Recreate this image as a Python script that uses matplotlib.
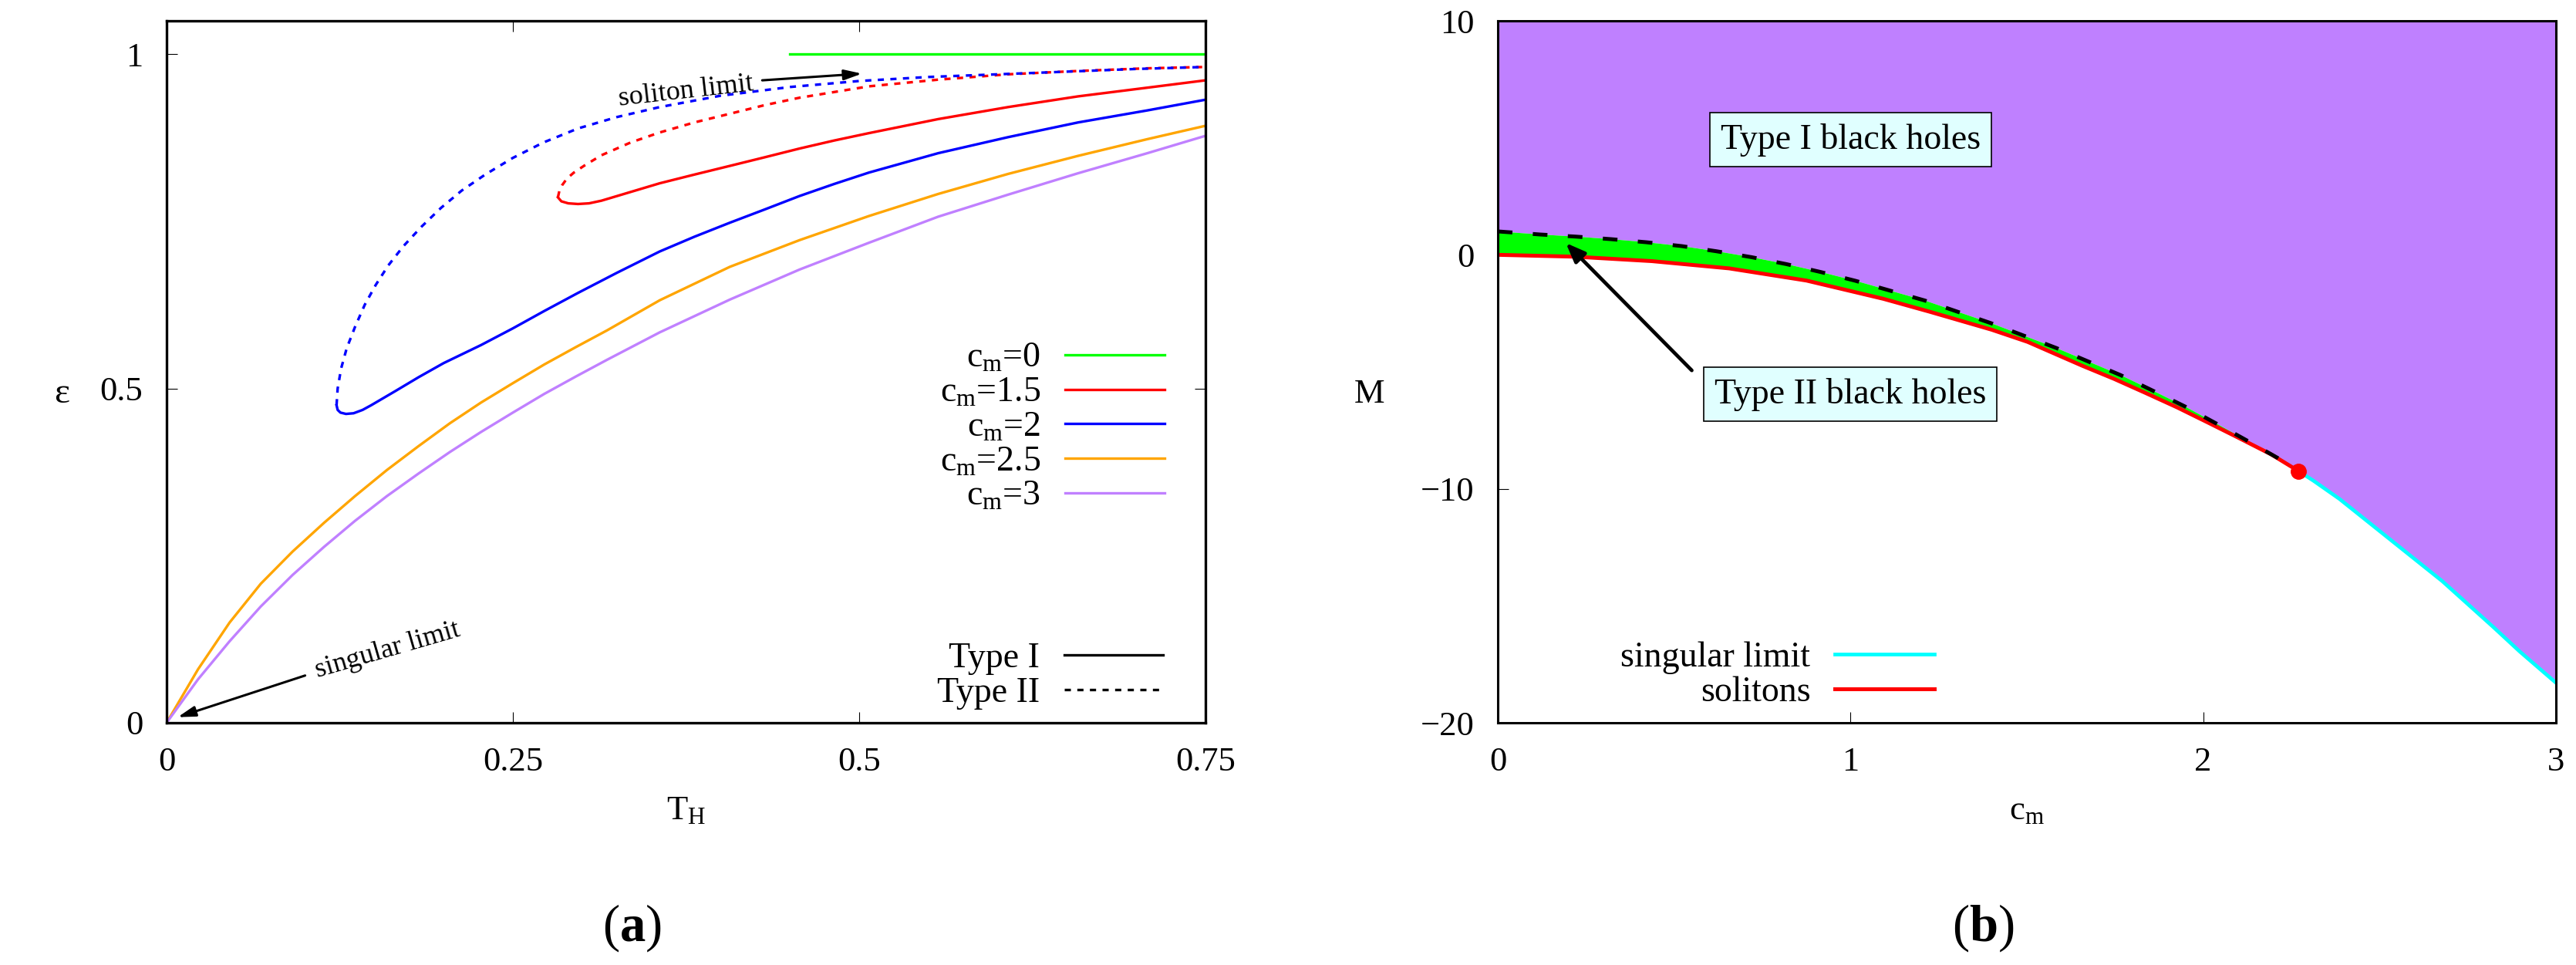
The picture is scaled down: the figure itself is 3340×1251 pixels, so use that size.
import numpy as np
import matplotlib
matplotlib.use('Agg')
import matplotlib.pyplot as plt
from matplotlib.lines import Line2D

plt.rcParams['font.family'] = ['Liberation Serif', 'DejaVu Serif']
plt.rcParams['mathtext.fontset'] = 'custom'
plt.rcParams['mathtext.rm'] = 'Liberation Serif'
plt.rcParams['mathtext.it'] = 'Liberation Serif:italic'
plt.rcParams['mathtext.bf'] = 'Liberation Serif:bold'

# ---------------- panel (a): epsilon vs T_H ----------------
t_cm0 = [0.45, 0.75]
e_cm0 = [1.0, 1.0]

t_cm15_I = [0.2825, 0.285, 0.29, 0.297, 0.305, 0.314, 0.335, 0.356, 0.381, 0.4066,
            0.432, 0.457, 0.482, 0.507, 0.557, 0.6075, 0.658, 0.708, 0.75]
e_cm15_I = [0.786, 0.780, 0.777, 0.776, 0.777, 0.781, 0.794, 0.807, 0.820, 0.833,
            0.846, 0.859, 0.871, 0.882, 0.903, 0.921, 0.937, 0.950, 0.961]
t_cm15_II = [0.2825, 0.2835, 0.2855, 0.289, 0.294, 0.302, 0.314, 0.335, 0.356, 0.381,
             0.4066, 0.432, 0.457, 0.507, 0.557, 0.6075, 0.658, 0.708, 0.75]
e_cm15_II = [0.786, 0.795, 0.804, 0.814, 0.823, 0.834, 0.849, 0.868, 0.883, 0.898,
             0.911, 0.924, 0.935, 0.952, 0.962, 0.970, 0.975, 0.979, 0.981]

t_cm2_I = [0.1227, 0.1235, 0.1255, 0.1295, 0.135, 0.1415, 0.1477, 0.165, 0.182, 0.2,
           0.227, 0.25, 0.2727, 0.297, 0.325, 0.356, 0.381, 0.4066, 0.432, 0.457,
           0.482, 0.507, 0.557, 0.6075, 0.658, 0.708, 0.75]
e_cm2_I = [0.475, 0.468, 0.464, 0.462, 0.463, 0.468, 0.475, 0.496, 0.517, 0.538,
           0.565, 0.590, 0.616, 0.643, 0.673, 0.705, 0.727, 0.748, 0.768, 0.788,
           0.806, 0.823, 0.852, 0.876, 0.898, 0.916, 0.932]
t_cm2_II = [0.1227, 0.1235, 0.126, 0.130, 0.136, 0.143, 0.151, 0.160, 0.171, 0.184,
            0.198, 0.213, 0.230, 0.250, 0.272, 0.297, 0.325, 0.356, 0.40, 0.45,
            0.50, 0.55, 0.60, 0.65, 0.70, 0.75]
e_cm2_II = [0.475, 0.500, 0.530, 0.560, 0.592, 0.625, 0.655, 0.684, 0.713, 0.742,
            0.770, 0.796, 0.820, 0.845, 0.868, 0.889, 0.906, 0.921, 0.938, 0.951,
            0.960, 0.966, 0.970, 0.974, 0.978, 0.981]

t_low = [0, 0.0227, 0.0455, 0.068, 0.0909, 0.1136, 0.136, 0.159, 0.182, 0.2045,
         0.227, 0.25, 0.2727, 0.2955, 0.318, 0.356, 0.4066, 0.457, 0.507, 0.557,
         0.6075, 0.658, 0.708, 0.75]
e_cm25 = [0, 0.080, 0.150, 0.208, 0.256, 0.299, 0.339, 0.378, 0.414, 0.448,
          0.479, 0.508, 0.536, 0.562, 0.587, 0.632, 0.682, 0.722, 0.758, 0.791,
          0.821, 0.848, 0.873, 0.893]
e_cm3 = [0, 0.065, 0.122, 0.174, 0.221, 0.263, 0.302, 0.339, 0.373, 0.405,
         0.435, 0.464, 0.492, 0.518, 0.543, 0.584, 0.633, 0.678, 0.718, 0.757,
         0.790, 0.822, 0.852, 0.878]

cm_labels = [r'c$_\mathrm{m}$=0', r'c$_\mathrm{m}$=1.5', r'c$_\mathrm{m}$=2',
             r'c$_\mathrm{m}$=2.5', r'c$_\mathrm{m}$=3']

# ---------------- panel (b): M vs c_m ----------------
c_sol = [0, 0.219, 0.437, 0.656, 0.875, 1.093, 1.224, 1.40, 1.502, 1.657, 1.747,
         1.836, 1.926, 2.015, 2.104, 2.194, 2.27]
M_sol = [0.0, -0.08, -0.27, -0.58, -1.10, -1.88, -2.43, -3.20, -3.72, -4.74, -5.30,
         -5.90, -6.52, -7.18, -7.85, -8.54, -9.24]

c_dash = [0, 0.121, 0.2216, 0.321, 0.421, 0.521, 0.620, 0.719, 0.818, 0.916, 1.014,
          1.210, 1.398, 1.583, 1.767, 1.859, 1.948, 2.037, 2.122, 2.212, 2.27]
M_dash = [1.0, 0.867, 0.778, 0.669, 0.537, 0.373, 0.152, -0.10, -0.397, -0.737, -1.11,
          -1.95, -2.92, -3.98, -5.15, -5.82, -6.48, -7.21, -7.92, -8.69, -9.24]

c_sing = [2.27, 2.313, 2.386, 2.459, 2.532, 2.605, 2.678, 2.751, 2.824, 2.897, 3.0]
M_sing = [-9.24, -9.66, -10.43, -11.31, -12.19, -13.07, -13.95, -14.94, -15.93, -16.95, -18.29]

GREEN = '#00ff00'
RED = '#ff0000'
BLUE = '#0000ff'
ORANGE = '#ffa500'
PURPLE = '#c080ff'
CYAN = '#00ffff'

W, H = 3341, 1251
fig = plt.figure(figsize=(W / 100, H / 100), dpi=100)
ax1 = fig.add_axes([216 / W, 314 / H, 1347 / W, 910 / H])
ax2 = fig.add_axes([1942 / W, 314 / H, 1372 / W, 910 / H])

dots = (0, (2.4, 2.5))
lw = 2.4

# --- left panel ---
l0, = ax1.plot(t_cm0, e_cm0, color=GREEN, lw=lw)
l15, = ax1.plot(t_cm15_I, e_cm15_I, color=RED, lw=lw)
ax1.plot(t_cm15_II, e_cm15_II, color=RED, lw=lw, ls=dots)
l2, = ax1.plot(t_cm2_I, e_cm2_I, color=BLUE, lw=lw)
ax1.plot(t_cm2_II, e_cm2_II, color=BLUE, lw=lw, ls=dots)
l25, = ax1.plot(t_low, e_cm25, color=ORANGE, lw=lw)
l3, = ax1.plot(t_low, e_cm3, color=PURPLE, lw=lw)

ax1.set_xlim(0, 0.75)
ax1.set_ylim(0, 1.05)
ax1.set_xticks([0, 0.25, 0.5, 0.75])
ax1.set_xticklabels(['0', '0.25', '0.5', '0.75'])
ax1.set_yticks([0, 0.5, 1])
ax1.set_yticklabels(['0', '0.5', '1'])

leg1 = ax1.legend([l0, l15, l2, l25, l3], cm_labels, loc='upper right',
                  bbox_to_anchor=(0.974, 0.5626), frameon=False, markerfirst=False,
                  handlelength=2.8, handletextpad=0.7, labelspacing=0.05,
                  fontsize=33, borderpad=0.4, borderaxespad=0)
ax1.add_artist(leg1)
type_handles = [Line2D([], [], color='k', lw=lw), Line2D([], [], color='k', lw=lw, ls=dots)]
ax1.legend(type_handles, ['Type I', 'Type II'], loc='upper right',
           bbox_to_anchor=(0.973, 0.135), frameon=False, markerfirst=False,
           handlelength=2.8, handletextpad=0.7, labelspacing=0.05,
           fontsize=33, borderpad=0.4, borderaxespad=0)

ax1.annotate('', xy=(0.502, 0.971), xytext=(0.430, 0.961),
             arrowprops=dict(arrowstyle='-|>,head_length=0.55,head_width=0.16',
                             mutation_scale=25, lw=2.2, color='k',
                             shrinkA=0, shrinkB=0))
ax1.text(0.3753, 0.935, 'soliton limit', fontsize=26, rotation=6.5,
         rotation_mode='anchor', ha='center', va='baseline')
ax1.annotate('', xy=(0.008, 0.0084), xytext=(0.100, 0.0707),
             arrowprops=dict(arrowstyle='-|>,head_length=0.55,head_width=0.16',
                             mutation_scale=25, lw=2.2, color='k',
                             shrinkA=0, shrinkB=0))
ax1.text(0.1608, 0.0993, 'singular limit', fontsize=26, rotation=16.2,
         rotation_mode='anchor', ha='center', va='baseline')

ax1.set_xlabel(r'T$_\mathrm{H}$', fontsize=32)
ax1.xaxis.set_label_coords(0.5, -0.1374)
ax1.xaxis.label.set_va('baseline')
ax1.set_ylabel('ε', fontsize=34, rotation=0)
ax1.yaxis.set_label_coords(-0.101, 0.468)
ax1.yaxis.label.set_va('center')

# --- right panel ---
c_max, m_top = 3, 10
ax2.set_axisbelow(True)
ax2.fill(c_dash + c_sing[1:] + [c_max, 0], M_dash + M_sing[1:] + [m_top, m_top],
         color='#bf80ff', lw=0, zorder=1)
ax2.fill(c_dash + c_sol[::-1], M_dash + M_sol[::-1], color=GREEN, lw=0, zorder=1)
ls_sing, = ax2.plot(c_sing, M_sing, color=CYAN, lw=3.4, zorder=2)
ls_sol, = ax2.plot(c_sol, M_sol, color=RED, lw=3.6, zorder=2)
ax2.plot(c_dash, M_dash, color='k', lw=3.6, ls=(0, (3.8, 5.3)), zorder=2.2)
ax2.plot(c_sol[-1:], M_sol[-1:], 'o', color=RED, ms=14, zorder=2.3)

ax2.set_xlim(0, c_max)
ax2.set_ylim(-20, m_top)
ax2.set_xticks([0, 1, 2, 3])
ax2.set_yticks([-20, -10, 0, 10])

box = dict(boxstyle='square,pad=0.3', fc='#e0ffff', ec='k', lw=1.2)
ax2.text(1.0, 4.92, 'Type I black holes', fontsize=33, ha='center', va='center',
         bbox=box, zorder=4)
ax2.text(1.0, -5.96, 'Type II black holes', fontsize=33, ha='center', va='center',
         bbox=box, zorder=4)
ax2.annotate('', xy=(0.193, 0.505), xytext=(0.55, -4.94),
             arrowprops=dict(arrowstyle='-|>,head_length=0.5,head_width=0.2',
                             mutation_scale=30, lw=3.4, color='k',
                             shrinkA=0, shrinkB=0), zorder=4)

ax2.legend([ls_sing, ls_sol], ['singular limit', 'solitons'], loc='upper right',
           bbox_to_anchor=(0.4257, 0.136), frameon=False, markerfirst=False,
           handlelength=2.8, handletextpad=0.7, labelspacing=0.05,
           fontsize=33, borderpad=0.4, borderaxespad=0)

ax2.set_xlabel(r'c$_\mathrm{m}$', fontsize=32)
ax2.xaxis.set_label_coords(0.5, -0.1374)
ax2.xaxis.label.set_va('baseline')
ax2.set_ylabel('M', fontsize=32, rotation=0)
ax2.yaxis.set_label_coords(-0.1217, 0.468)
ax2.yaxis.label.set_va('center')

for ax, sw in ((ax1, 2.4), (ax2, 2.2)):
    ax.tick_params(direction='in', top=True, right=True, length=10, width=0.8,
                   labelsize=32, pad=22)
    for s in ax.spines.values():
        s.set_linewidth(sw)

fig.text(819 / W, 1 - 1203 / H, r'($\mathbf{a}$)', fontsize=48, ha='center', va='center')
fig.text(2571 / W, 1 - 1203 / H, r'($\mathbf{b}$)', fontsize=48, ha='center', va='center')

fig.savefig('out.png', dpi=100)
